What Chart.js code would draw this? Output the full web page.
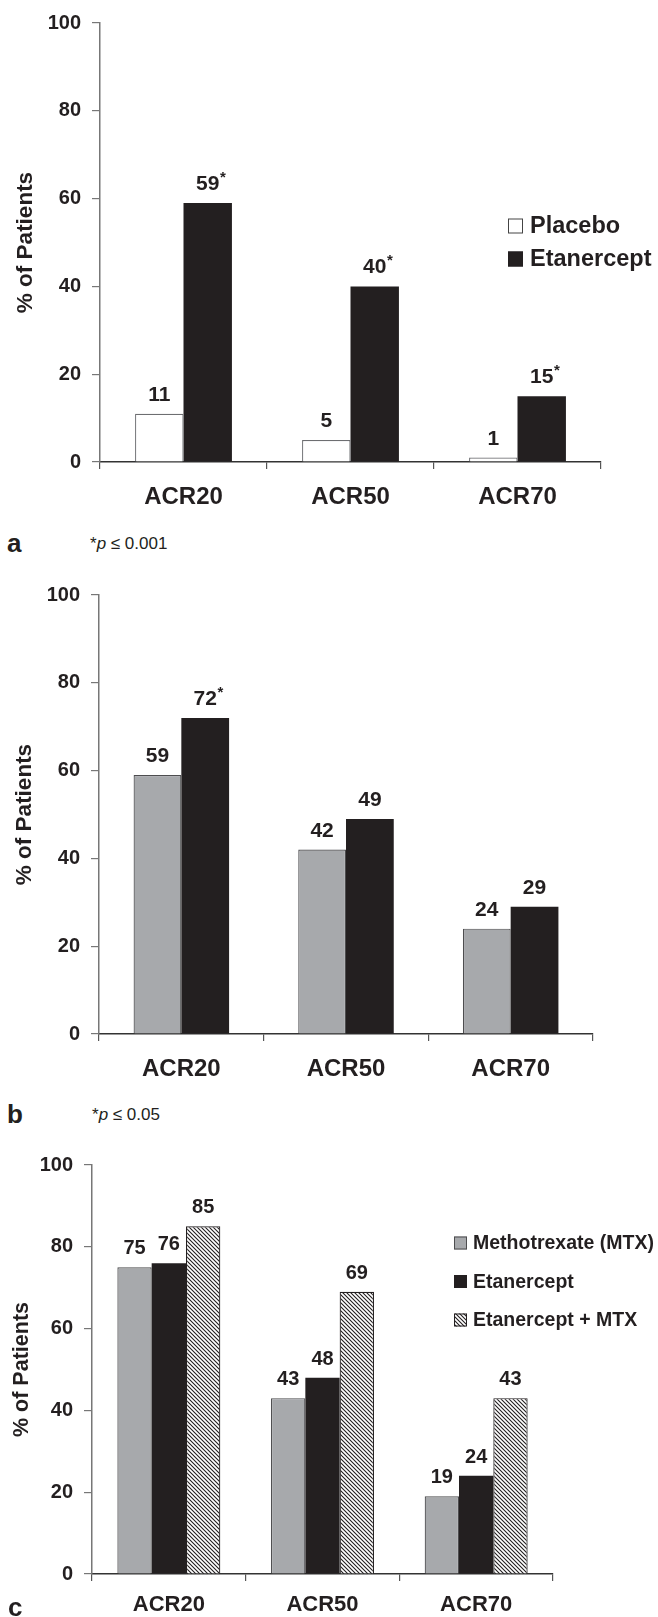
<!DOCTYPE html>
<html>
<head>
<meta charset="utf-8">
<script src="https://cdn.jsdelivr.net/npm/chart.js@4.4.1/dist/chart.umd.min.js"></script>
<style>
  html, body { margin: 0; padding: 0; background: #ffffff; }
  #wrap { position: relative; width: 658px; height: 1617px; overflow: hidden; background: #fff; font-family: "Liberation Sans", Arial, sans-serif; color: #231f20; }
  canvas { position: absolute; left: 0; }
  .panel { position: absolute; font-weight: bold; font-size: 26px; line-height: 26px; }
  .note { position: absolute; font-size: 17px; line-height: 17px; }
</style>
</head>
<body>
<div id="wrap">
  <canvas id="chartA" style="top:0px"></canvas>
  <canvas id="chartB" style="top:560px"></canvas>
  <canvas id="chartC" style="top:1130px"></canvas>
  <div class="panel" style="left:7px; top:530px;">a</div>
  <div class="note" style="left:90px; top:535px;">*<i>p</i> ≤ 0.001</div>
  <div class="panel" style="left:7px; top:1101px;">b</div>
  <div class="note" style="left:92px; top:1106px;">*<i>p</i> ≤ 0.05</div>
  <div class="panel" style="left:8px; top:1594px;">c</div>
</div>
<script>
// ---------- DATA ----------
const categories = ['ACR20', 'ACR50', 'ACR70'];
const yTickValues = [0, 20, 40, 60, 80, 100];
const yTitle = '% of Patients';

// Panel a
const aLabels = ['Placebo', 'Etanercept'];
const aPlacebo = [11, 5, 1];
const aEtanercept = [59, 40, 15];
const aPlaceboSig = [false, false, false];
const aEtanerceptSig = [true, true, true];

// Panel b
const bLabels = ['Methotrexate', 'Etanercept'];
const bMethotrexate = [59, 42, 24];
const bEtanercept = [72, 49, 29];
const bMethotrexateSig = [false, false, false];
const bEtanerceptSig = [true, false, false];

// Panel c
const cLabels = ['Methotrexate (MTX)', 'Etanercept', 'Etanercept + MTX'];
const cMethotrexate = [75, 43, 19];
const cEtanercept = [76, 48, 24];
const cCombination = [85, 69, 43];
const cNoSig = [false, false, false];

// ---------- STYLE ----------
const FONT = '"Liberation Sans", Arial, Helvetica, sans-serif';
const INK = '#231f20';
const GRAY = '#a7a9ac';

function makeHatch() {
  const p = document.createElement('canvas');
  p.width = 4; p.height = 4;
  const g = p.getContext('2d');
  g.fillStyle = '#ffffff';
  g.fillRect(0, 0, 4, 4);
  g.strokeStyle = '#231f20';
  g.lineWidth = 1.1;
  g.beginPath();
  g.moveTo(-1, -1); g.lineTo(5, 5);
  g.moveTo(-1, 3); g.lineTo(1, 5);
  g.moveTo(3, -1); g.lineTo(5, 1);
  g.stroke();
  return g.createPattern(p, 'repeat');
}
const hatch = makeHatch();

// value labels plugin
const valueLabelPlugin = {
  id: 'valueLabels',
  afterDatasetsDraw(chart) {
    const o = chart.options.plugins.valueLabels;
    const ctx = chart.ctx;
    ctx.save();
    chart.data.datasets.forEach((ds, di) => {
      const meta = chart.getDatasetMeta(di);
      meta.data.forEach((el, i) => {
        const txt = String(ds.data[i]);
        ctx.font = 'bold ' + o.size + 'px ' + FONT;
        ctx.fillStyle = INK;
        ctx.textAlign = 'center';
        ctx.textBaseline = 'alphabetic';
        const base = el.y - o.gap;
        ctx.fillText(txt, el.x, base);
        if (ds.sig && ds.sig[i]) {
          const w = ctx.measureText(txt).width;
          ctx.font = 'bold ' + o.starSize + 'px ' + FONT;
          ctx.textAlign = 'left';
          ctx.fillText('*', el.x + w / 2 + 0.5, base - o.starRaise);
        }
      });
    });
    ctx.restore();
  }
};

// legend plugin (drawn inside the plot)
const boxLegendPlugin = {
  id: 'boxLegend',
  afterDraw(chart) {
    const o = chart.options.plugins.boxLegend;
    const ctx = chart.ctx;
    ctx.save();
    chart.data.datasets.forEach((ds, i) => {
      const cy = o.y + i * o.spacing;
      const x = o.x;
      ctx.fillStyle = ds.backgroundColor;
      ctx.fillRect(x, cy - o.box / 2, o.box, o.box);
      ctx.strokeStyle = ds.legendBorder || ds.borderColor || INK;
      ctx.lineWidth = 1;
      ctx.strokeRect(x + 0.5, cy - o.box / 2 + 0.5, o.box - 1, o.box - 1);
      ctx.fillStyle = INK;
      ctx.font = 'bold ' + o.size + 'px ' + FONT;
      ctx.textAlign = 'left';
      ctx.textBaseline = 'middle';
      ctx.fillText(ds.label, o.textX, cy + 1);
    });
    ctx.restore();
  }
};

function buildChart(id, w, h, datasets, cfg) {
  const canvas = document.getElementById(id);
  canvas.width = w; canvas.height = h;
  canvas.style.width = w + 'px'; canvas.style.height = h + 'px';
  return new Chart(canvas, {
    type: 'bar',
    data: { labels: categories, datasets: datasets },
    plugins: [valueLabelPlugin, boxLegendPlugin],
    options: {
      responsive: false,
      animation: false,
      devicePixelRatio: 1,
      layout: { padding: { top: cfg.padTop, right: cfg.padRight, left: 0, bottom: 0 } },
      datasets: { bar: { categoryPercentage: cfg.catPct, barPercentage: 1.0 } },
      plugins: {
        legend: { display: false },
        tooltip: { enabled: false },
        valueLabels: { size: cfg.valSize, gap: 13, starSize: 15, starRaise: 8 },
        boxLegend: cfg.legend
      },
      scales: {
        x: {
          grid: { display: true, drawOnChartArea: false, drawTicks: true, tickLength: 7, color: '#555', lineWidth: 1.2, offset: true },
          border: { display: true, color: '#333', width: 1.5 },
          ticks: { color: INK, font: { family: FONT, size: cfg.catSize, weight: 'bold' }, padding: cfg.xPad },
          afterFit(s) { s.height = cfg.xHeight; }
        },
        y: {
          min: 0, max: 100,
          afterBuildTicks(s) { s.ticks = yTickValues.map(v => ({ value: v })); },
          grid: { display: true, drawOnChartArea: false, drawTicks: true, tickLength: 8, color: '#777', lineWidth: 1.2 },
          border: { display: true, color: '#777', width: 1.5 },
          ticks: { color: INK, font: { family: FONT, size: 20, weight: 'bold' }, padding: 11 },
          title: { display: true, text: yTitle, color: INK, font: { family: FONT, size: cfg.titleSize, weight: 'bold' }, padding: { top: cfg.titlePad, bottom: 0 } },
          afterFit(s) { s.width = cfg.yWidth; }
        }
      }
    }
  });
}

// Panel a
buildChart('chartA', 658, 520, [
  { label: aLabels[0], data: aPlacebo, sig: aPlaceboSig, backgroundColor: '#ffffff', borderColor: '#6d6e71', borderWidth: 1.2, legendBorder: '#444' },
  { label: aLabels[1], data: aEtanercept, sig: aEtanerceptSig, backgroundColor: INK, borderColor: INK, borderWidth: 0 }
], {
  padTop: 17, padRight: 57, catPct: 0.58, valSize: 21, catSize: 24, xPad: 14, xHeight: 58,
  yWidth: 100, titleSize: 22.5, titlePad: 12,
  legend: { x: 508, y: 226, spacing: 33, box: 15, textX: 530, size: 23.5 }
});

// Panel b
buildChart('chartB', 658, 535, [
  { label: bLabels[0], data: bMethotrexate, sig: bMethotrexateSig, backgroundColor: GRAY, borderColor: '#4d4d4f', borderWidth: 1.2 },
  { label: bLabels[1], data: bEtanercept, sig: bEtanerceptSig, backgroundColor: INK, borderColor: INK, borderWidth: 0 }
], {
  padTop: 35, padRight: 65, catPct: 0.58, valSize: 21, catSize: 24, xPad: 14, xHeight: 61,
  yWidth: 99, titleSize: 22.5, titlePad: 11,
  legend: { x: 487, y: 800, spacing: 35, box: 15, textX: 508, size: 23.5 }
});

// Panel c
buildChart('chartC', 658, 487, [
  { label: cLabels[0], data: cMethotrexate, sig: cNoSig, backgroundColor: GRAY, borderColor: '#4d4d4f', borderWidth: 1.2 },
  { label: cLabels[1], data: cEtanercept, sig: cNoSig, backgroundColor: INK, borderColor: INK, borderWidth: 0 },
  { label: cLabels[2], data: cCombination, sig: cNoSig, backgroundColor: hatch, borderColor: '#231f20', borderWidth: 1.2 }
], {
  padTop: 35, padRight: 105, catPct: 0.67, valSize: 20, catSize: 22, xPad: 11, xHeight: 43,
  yWidth: 92, titleSize: 21.5, titlePad: 9,
  legend: { x: 454, y: 1243 - 1130, spacing: 38.5, box: 13, textX: 473, size: 19.5 }
});
</script>
</body>
</html>
